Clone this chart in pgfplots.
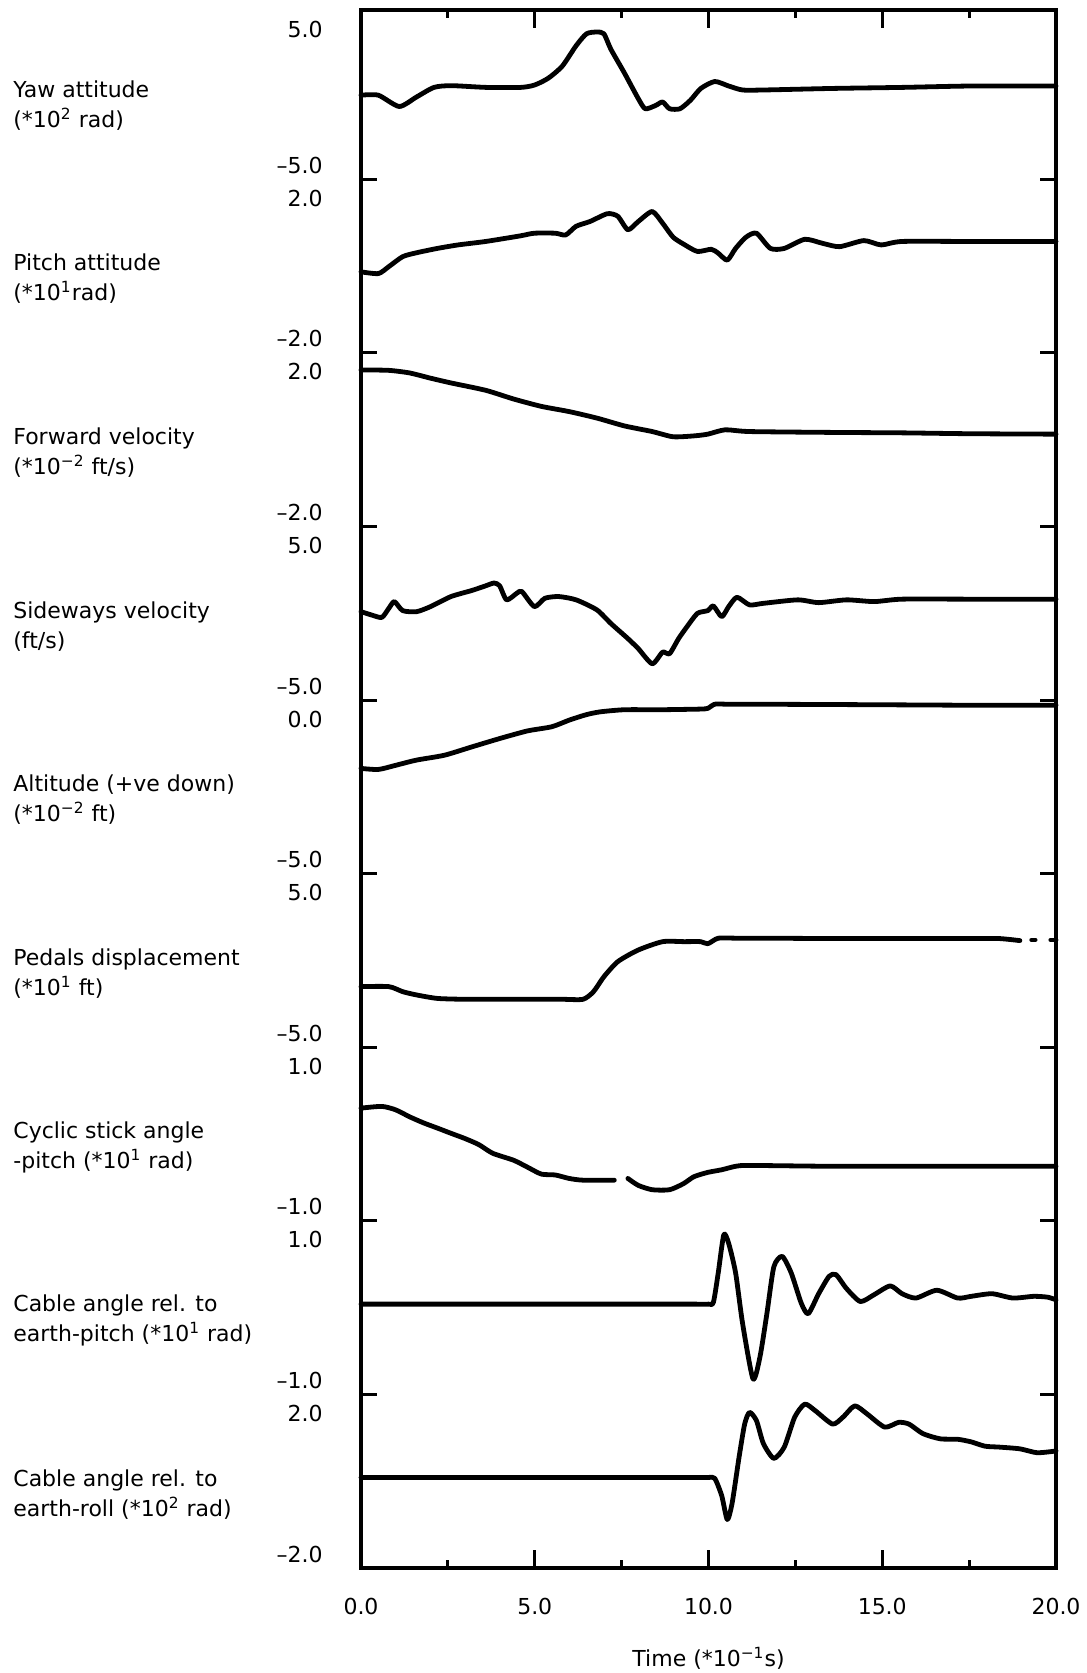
\documentclass[border=0pt]{standalone}
\usepackage{fontspec}
\setmainfont{DejaVu Sans}
\usepackage{pgfplots}
\pgfplotsset{compat=1.18}
\begin{document}
\fontsize{11}{15}\selectfont
\begin{tikzpicture}[
  trace/.style={black, line width=2.4pt, line join=round, line cap=round, smooth, tension=0.4},
  lab/.style={anchor=west, align=left, inner sep=0pt, font=\fontsize{11}{15}\selectfont},
  tl/.style={anchor=east, inner sep=0pt, font=\fontsize{11}{15}\selectfont}]
\path[use as bounding box] (0,0) rectangle (543pt,836.5pt);
\begin{axis}[
  at={(180.5pt,52.5pt)}, anchor=south west, scale only axis,
  width=347.5pt, height=779pt,
  xmin=0, xmax=20, ymin=0, ymax=8.975,
  clip=false,
  axis line style={line width=1.7pt},
  tick style={black, line width=1.5pt},
  tick align=inside,
  major tick length=9pt, minor tick length=4pt,
  xtick={0,5,10,15,20},
  xticklabels={0.0,5.0,10.0,15.0,20.0},
  minor xtick={2.5,7.5,12.5,17.5},
  xticklabel style={yshift=-11pt, font=\fontsize{11}{15}\selectfont},
  ytick=\empty,
  minor ytick={0.5,1.5,2.5,3.5,4.5,5.5,6.5,7.5,8.5},
  extra y ticks={1,2,3,4,5,6,7,8},
  extra y tick labels={,,,,,,,},
  extra y tick style={major tick length=8pt},
  xlabel={Time (*10\textsuperscript{−1}s)},
  xlabel style={at={(axis description cs:0.5,0)}, anchor=center, yshift=-45pt, font=\fontsize{11}{15}\selectfont},
]
% ---- Panel 1: Yaw attitude (A=5)
\addplot[trace] table[x=t, y expr=\thisrow{v}*0.1+8.49] {
t v
0 -0.06
0.5 -0.06
1.1 -0.71
1.6 -0.16
2.1 0.39
2.6 0.49
3.6 0.39
4.6 0.39
5.0 0.53
5.39 0.92
5.79 1.61
6.19 2.79
6.49 3.48
6.79 3.58
6.99 3.48
7.19 2.59
7.58 1.22
7.98 -0.26
8.18 -0.84
8.48 -0.65
8.68 -0.45
8.88 -0.84
9.18 -0.84
9.48 -0.35
9.78 0.33
10.18 0.73
10.58 0.47
10.98 0.24
11.58 0.24
13.57 0.33
15.57 0.39
17.56 0.47
20 0.47
};
% ---- Panel 2: Pitch attitude (A=2)
\addplot[trace] table[x=t, y expr=\thisrow{v}*0.25+7.504] {
t v
0 -0.15
0.5 -0.19
0.8 -0.03
1.2 0.20
1.6 0.29
2.2 0.39
2.79 0.47
3.59 0.55
4.59 0.68
4.99 0.74
5.59 0.74
5.89 0.70
6.19 0.90
6.59 1.01
7.09 1.19
7.39 1.13
7.68 0.82
7.98 1.01
8.38 1.24
8.68 0.97
8.98 0.65
9.28 0.49
9.68 0.32
10.08 0.37
10.28 0.28
10.54 0.12
10.78 0.39
11.08 0.65
11.38 0.74
11.78 0.39
12.18 0.39
12.77 0.60
13.27 0.51
13.77 0.43
14.47 0.57
14.97 0.47
15.57 0.55
17.5 0.55
20 0.55
};
% ---- Panel 3: Forward velocity (A=2)
\addplot[trace] table[x=t, y expr=\thisrow{v}*0.25+6.509] {
t v
0 1.57
0.8 1.56
1.4 1.50
2.0 1.38
2.59 1.27
3.59 1.10
4.39 0.90
5.19 0.73
5.99 0.61
6.79 0.46
7.58 0.28
8.38 0.15
8.98 0.03
9.58 0.05
9.98 0.09
10.48 0.19
11.18 0.15
13.57 0.13
15.57 0.12
17.5 0.10
20 0.09
};
% ---- Panel 4: Sideways velocity (A=5)
\addplot[trace] table[x=t, y expr=\thisrow{v}*0.1+5.538] {
t v
0 -0.29
0.3 -0.48
0.6 -0.62
0.8 -0.10
0.96 0.29
1.2 -0.23
1.6 -0.29
2.0 0
2.59 0.58
3.19 0.93
3.59 1.20
3.83 1.36
3.99 1.20
4.19 0.39
4.49 0.78
4.63 0.87
4.99 0
5.29 0.48
5.69 0.58
6.19 0.39
6.79 -0.19
7.19 -0.97
7.68 -1.84
7.98 -2.42
8.38 -3.29
8.68 -2.62
8.88 -2.71
9.14 -1.84
9.38 -1.16
9.68 -0.39
9.98 -0.23
10.14 0.04
10.38 -0.58
10.58 0
10.82 0.54
11.18 0.10
11.58 0.19
12.57 0.39
13.17 0.23
13.97 0.39
14.77 0.29
15.57 0.43
17.5 0.43
20 0.43
};
% ---- Panel 5: Altitude (range -5..0)
\addplot[trace] table[x=t, y expr=\thisrow{v}*0.2+5.008] {
t v
0 -2.01
0.5 -2.04
1.0 -1.92
1.6 -1.77
2.4 -1.63
3.19 -1.39
3.99 -1.15
4.79 -0.93
5.49 -0.81
5.99 -0.62
6.49 -0.46
6.89 -0.38
7.58 -0.32
8.58 -0.32
9.3 -0.31
9.8 -0.30
9.98 -0.28
10.18 -0.16
10.5 -0.16
11.0 -0.16
13.57 -0.17
15.57 -0.18
17.56 -0.19
20 -0.19
};
% ---- Panel 6: Pedals displacement (A=5)
\addplot[trace] table[x=t, y expr=\thisrow{v}*0.1+3.518] {
t v
0 -1.69
0.8 -1.69
1.2 -1.98
1.6 -2.17
2.2 -2.37
3.0 -2.42
4.0 -2.42
5.0 -2.42
5.8 -2.42
6.39 -2.42
6.69 -1.98
6.99 -1.12
7.39 -0.25
7.98 0.42
8.68 0.90
9.3 0.90
9.78 0.90
9.98 0.78
10.28 1.10
10.8 1.10
11.58 1.10
13.57 1.08
15.57 1.08
17.5 1.08
18.36 1.08
18.96 0.96
};
\addplot[trace] table[x=t, y expr=\thisrow{v}*0.1+3.518] {
t v
19.3 1.0
19.4 1.0
};
\addplot[trace] table[x=t, y expr=\thisrow{v}*0.1+3.518] {
t v
19.85 1.0
20 1.0
};
% ---- Panel 7: Cyclic stick angle (A=1)
\addplot[trace] table[x=t, y expr=\thisrow{v}*0.5+2.504] {
t v
0 0.29
0.6 0.31
1.0 0.27
1.4 0.19
1.8 0.12
2.2 0.06
2.59 0
2.99 -0.06
3.39 -0.13
3.79 -0.23
4.39 -0.31
4.79 -0.39
5.19 -0.47
5.59 -0.48
5.99 -0.52
6.39 -0.54
7.29 -0.54
};
\addplot[trace] table[x=t, y expr=\thisrow{v}*0.5+2.504] {
t v
7.68 -0.52
7.98 -0.60
8.38 -0.65
8.88 -0.65
9.28 -0.58
9.58 -0.50
9.98 -0.45
10.38 -0.42
10.78 -0.38
11.18 -0.37
13.57 -0.38
16.5 -0.38
20 -0.38
};
% ---- Panel 8: Cable angle pitch (A=1)
\addplot[trace] table[x=t, y expr=\thisrow{v}*0.5+1.515] {
t v
0 0.01
2 0.01
4 0.01
6 0.01
8 0.01
9 0.01
9.6 0.01
10.0 0.01
10.14 0.03
10.28 0.37
10.44 0.81
10.58 0.71
10.78 0.37
10.98 -0.21
11.28 -0.85
11.48 -0.60
11.68 -0.10
11.88 0.44
12.12 0.56
12.38 0.37
12.67 0.02
12.87 -0.10
13.17 0.13
13.47 0.33
13.67 0.35
13.97 0.19
14.37 0.04
14.77 0.12
15.23 0.22
15.57 0.13
15.97 0.08
16.57 0.17
17.17 0.08
17.56 0.10
18.16 0.13
18.76 0.08
19.36 0.10
19.76 0.09
20 0.06
};
% ---- Panel 9: Cable angle roll (A=2)
\addplot[trace] table[x=t, y expr=\thisrow{v}*0.25+0.5165] {
t v
0 0.02
2 0.02
4 0.02
6 0.02
8 0.02
9 0.02
9.6 0.02
10.0 0.02
10.18 0.0
10.38 -0.40
10.54 -0.95
10.68 -0.57
10.88 0.49
11.04 1.25
11.18 1.52
11.38 1.33
11.58 0.80
11.88 0.46
12.18 0.72
12.48 1.41
12.77 1.71
13.07 1.56
13.57 1.25
13.87 1.41
14.21 1.67
14.57 1.48
15.07 1.18
15.47 1.29
15.77 1.25
16.17 1.03
16.67 0.91
17.17 0.90
17.56 0.84
17.96 0.74
18.36 0.72
18.96 0.68
19.46 0.59
20 0.63
};
% ---- y tick labels
\node[tl] at ([xshift=-19pt]axis cs:0,8.865) {5.0};
\node[tl] at ([xshift=-19pt]axis cs:0,8.08) {–5.0};
\node[tl] at ([xshift=-19pt]axis cs:0,7.89) {2.0};
\node[tl] at ([xshift=-19pt]axis cs:0,7.08) {–2.0};
\node[tl] at ([xshift=-19pt]axis cs:0,6.89) {2.0};
\node[tl] at ([xshift=-19pt]axis cs:0,6.08) {–2.0};
\node[tl] at ([xshift=-19pt]axis cs:0,5.89) {5.0};
\node[tl] at ([xshift=-19pt]axis cs:0,5.08) {–5.0};
\node[tl] at ([xshift=-19pt]axis cs:0,4.89) {0.0};
\node[tl] at ([xshift=-19pt]axis cs:0,4.08) {–5.0};
\node[tl] at ([xshift=-19pt]axis cs:0,3.89) {5.0};
\node[tl] at ([xshift=-19pt]axis cs:0,3.08) {–5.0};
\node[tl] at ([xshift=-19pt]axis cs:0,2.89) {1.0};
\node[tl] at ([xshift=-19pt]axis cs:0,2.08) {–1.0};
\node[tl] at ([xshift=-19pt]axis cs:0,1.89) {1.0};
\node[tl] at ([xshift=-19pt]axis cs:0,1.08) {–1.0};
\node[tl] at ([xshift=-19pt]axis cs:0,0.89) {2.0};
\node[tl] at ([xshift=-19pt]axis cs:0,0.08) {–2.0};
% ---- panel labels
\node[lab] at ([xshift=-174pt,yshift=-6.5pt]axis cs:0,8.5) {Yaw attitude\\(*10\textsuperscript{2} rad)};
\node[lab] at ([xshift=-174pt,yshift=-6.5pt]axis cs:0,7.5) {Pitch attitude\\(*10\textsuperscript{1}rad)};
\node[lab] at ([xshift=-174pt,yshift=-6.5pt]axis cs:0,6.5) {Forward velocity\\(*10\textsuperscript{−2} ft/s)};
\node[lab] at ([xshift=-174pt,yshift=-6.5pt]axis cs:0,5.5) {Sideways velocity\\(ft/s)};
\node[lab] at ([xshift=-174pt,yshift=-6.5pt]axis cs:0,4.5) {Altitude (+ve down)\\(*10\textsuperscript{−2} ft)};
\node[lab] at ([xshift=-174pt,yshift=-6.5pt]axis cs:0,3.5) {Pedals displacement\\(*10\textsuperscript{1} ft)};
\node[lab] at ([xshift=-174pt,yshift=-6.5pt]axis cs:0,2.5) {Cyclic stick angle\\-pitch (*10\textsuperscript{1} rad)};
\node[lab] at ([xshift=-174pt,yshift=-6.5pt]axis cs:0,1.5) {Cable angle rel. to\\earth-pitch (*10\textsuperscript{1} rad)};
\node[lab] at ([xshift=-174pt,yshift=-6.5pt]axis cs:0,0.5) {Cable angle rel. to\\earth-roll (*10\textsuperscript{2} rad)};
\end{axis}
\end{tikzpicture}
\end{document}
